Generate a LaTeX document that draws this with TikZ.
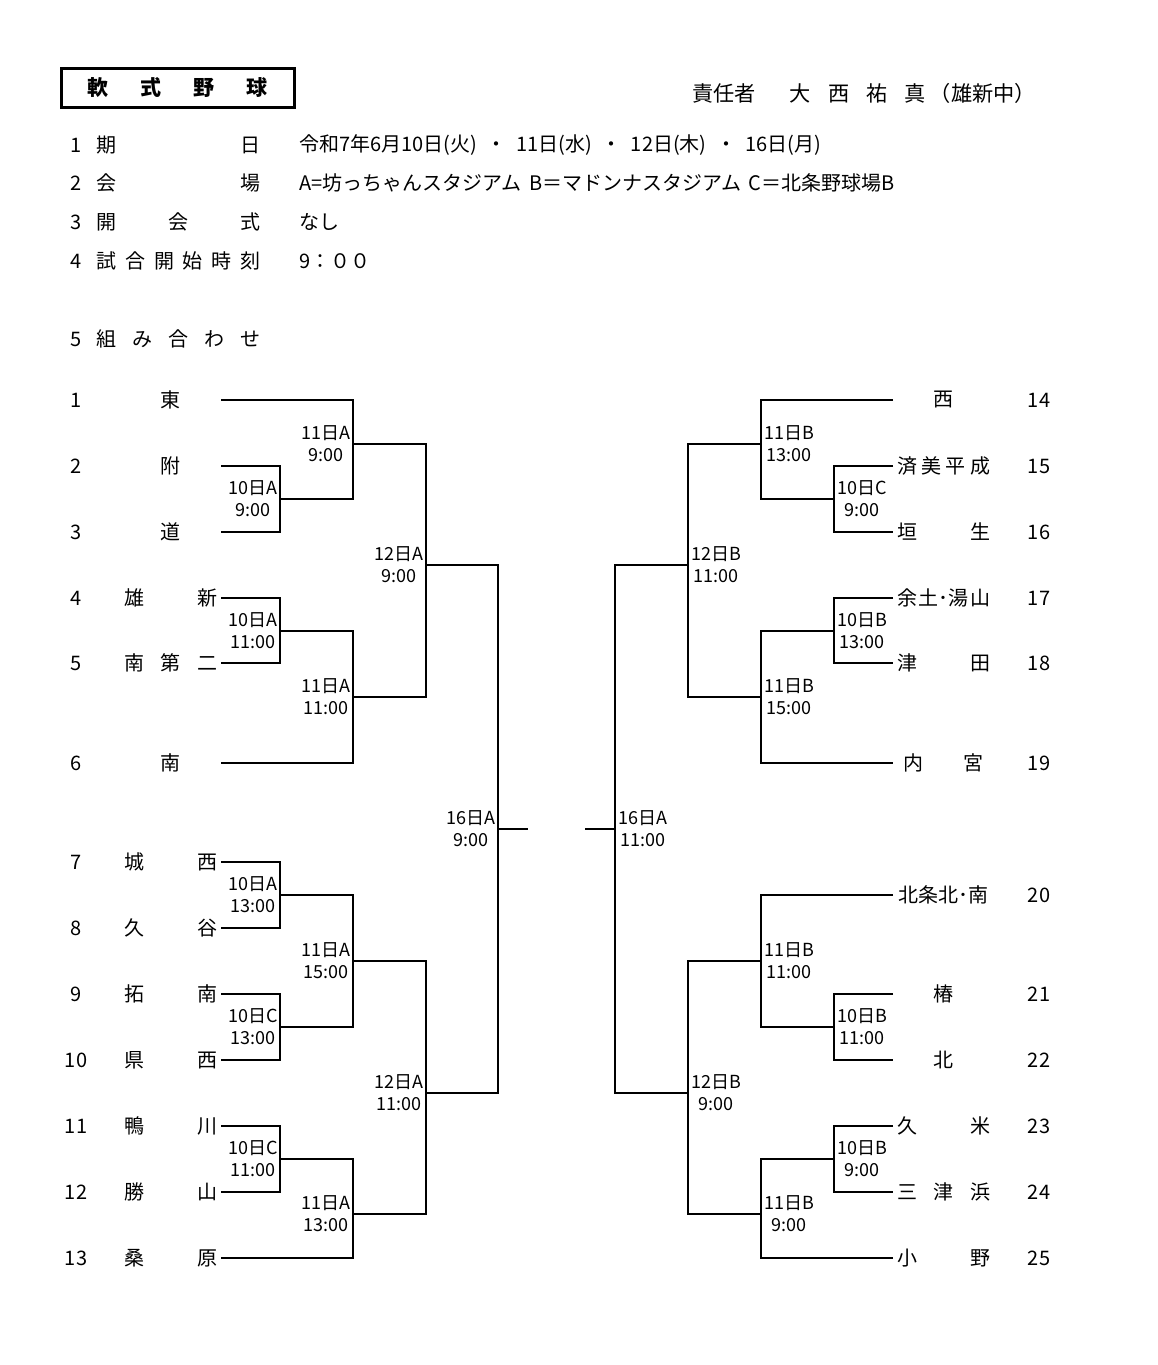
\documentclass[tikz,border=0pt]{standalone}
\usepackage{fontspec}
\setmainfont{Noto Sans CJK JP}
\usetikzlibrary{positioning}

\newcommand{\spread}[2]{\makebox[#1][s]{#2}}

\begin{document}
\begin{tikzpicture}[x=0.5pt,y=-0.5pt,
    bline/.style={line width=1pt},
    team/.style={font=\fontsize{10}{12}\selectfont,inner sep=0pt},
    lbl/.style={font=\fontsize{9}{11}\selectfont,align=center,inner sep=0pt}]
  \tikzstyle{item}=[font=\fontsize{10}{12}\selectfont,inner sep=0pt]

  \useasboundingbox (0,0) rectangle (1157,1365);

  \node[draw,line width=1.5pt,minimum width=116.5pt,minimum height=19.5pt,
    font=\fontsize{10.5}{12}\selectfont\bfseries,inner sep=0pt] (title) at (177.5,87.5)
    {\spread{90pt}{軟\hfill 式\hfill 野\hfill 球}};
  \node[item,font=\fontsize{10.6}{12}\selectfont,anchor=west] (chief) at (692,93)
    {責任者\hspace{1.6em}大\hspace{.8em}西\hspace{.8em}祐\hspace{.8em}真\hspace{.2em}（雄新中）};

  \node[item] (i1) at (76,145) {1};
  \node[item] (i2) at (76,183) {2};
  \node[item] (i3) at (76,222) {3};
  \node[item] (i4) at (76,261) {4};
  \node[item] (i5) at (76,339) {5};
  \node[item,anchor=west] (k1) at (96,145) {\spread{82pt}{期\hfill 日}};
  \node[item,anchor=west] (k2) at (96,183) {\spread{82pt}{会\hfill 場}};
  \node[item,anchor=west] (k3) at (96,222) {\spread{82pt}{開\hfill 会\hfill 式}};
  \node[item,anchor=west] (k4) at (96,261) {\spread{82pt}{試\hfill 合\hfill 開\hfill 始\hfill 時\hfill 刻}};
  \node[item,anchor=west] (k5) at (96,339) {\spread{82pt}{組\hfill み\hfill 合\hfill わ\hfill せ}};
  \node[item,anchor=west] (v1) at (299,145)
    {\spread{261pt}{令和7年6月10日(火)\hfil・\hfil 11日(水)\hfil・\hfil 12日(木)\hfil・\hfil 16日(月)}};
  \node[item,anchor=west] (v2) at (299,183)
    {A=坊っちゃんスタジアム\hspace{.4em}B＝マドンナスタジアム\hspace{.4em}C＝北条野球場B};
  \node[item,anchor=west] (v3) at (299,222) {なし};
  \node[item,anchor=west] (v4) at (299,261) {9：００};

  \foreach \i/\y in {1/400,2/466,3/532,4/598,5/663,6/763,7/862,8/928,9/994,10/1060,11/1126,12/1192,13/1258}{
    \coordinate (t\i) at (221,\y);
    \node[team] (no\i) at (76,\y) {\i};
  }
  \foreach \i/\y in {14/400,15/466,16/532,17/598,18/663,19/763,20/895,21/994,22/1060,23/1126,24/1192,25/1258}{
    \coordinate (t\i) at (893,\y);
    \node[team] (no\i) at (1039,\y) {\i};
  }

  \node[team] (n1) at (170.5,400) {\spread{46.5pt}{\hfill 東\hfill}};
  \node[team] (n2) at (170.5,466) {\spread{46.5pt}{\hfill 附\hfill}};
  \node[team] (n3) at (170.5,532) {\spread{46.5pt}{\hfill 道\hfill}};
  \node[team] (n4) at (170.5,598) {\spread{46.5pt}{雄\hfill 新}};
  \node[team] (n5) at (170.5,663) {\spread{46.5pt}{南\hfill 第\hfill 二}};
  \node[team] (n6) at (170.5,763) {\spread{46.5pt}{\hfill 南\hfill}};
  \node[team] (n7) at (170.5,862) {\spread{46.5pt}{城\hfill 西}};
  \node[team] (n8) at (170.5,928) {\spread{46.5pt}{久\hfill 谷}};
  \node[team] (n9) at (170.5,994) {\spread{46.5pt}{拓\hfill 南}};
  \node[team] (n10) at (170.5,1060) {\spread{46.5pt}{県\hfill 西}};
  \node[team] (n11) at (170.5,1126) {\spread{46.5pt}{鴨\hfill 川}};
  \node[team] (n12) at (170.5,1192) {\spread{46.5pt}{勝\hfill 山}};
  \node[team] (n13) at (170.5,1258) {\spread{46.5pt}{桑\hfill 原}};

  \node[team] (n14) at (943.5,400) {\spread{46.5pt}{\hfill 西\hfill}};
  \node[team] (n15) at (943.5,466) {\spread{46.5pt}{済\hfill 美\hfill 平\hfill 成}};
  \node[team] (n16) at (943.5,532) {\spread{46.5pt}{垣\hfill 生}};
  \node[team] (n17) at (943.5,598) {\spread{46.5pt}{余\hfill 土･湯\hfill 山}};
  \node[team] (n18) at (943.5,663) {\spread{46.5pt}{津\hfill 田}};
  \node[team] (n19) at (943.5,763) {\spread{46.5pt}{\hspace{.3em}内\hfill 宮\hspace{.3em}}};
  \node[team] (n20) at (943.5,895) {\spread{46.5pt}{\hfill 北条北･南\hfill}};
  \node[team] (n21) at (943.5,994) {\spread{46.5pt}{\hfill 椿\hfill}};
  \node[team] (n22) at (943.5,1060) {\spread{46.5pt}{\hfill 北\hfill}};
  \node[team] (n23) at (943.5,1126) {\spread{46.5pt}{久\hfill 米}};
  \node[team] (n24) at (943.5,1192) {\spread{46.5pt}{三\hfill 津\hfill 浜}};
  \node[team] (n25) at (943.5,1258) {\spread{46.5pt}{小\hfill 野}};

  \coordinate (m23) at (280,499);
  \coordinate (m45) at (280,631);
  \coordinate (m78) at (280,895);
  \coordinate (m910) at (280,1027);
  \coordinate (m1112) at (280,1159);
  \coordinate (m13) at (353,444);
  \coordinate (m46) at (353,697);
  \coordinate (m710) at (353,961);
  \coordinate (m1113) at (353,1214);
  \coordinate (m16) at (426,565);
  \coordinate (m713) at (426,1093);
  \coordinate (mL) at (498,829);
  \coordinate (eL) at (528,829);

  \coordinate (m1516) at (834,499);
  \coordinate (m1718) at (834,631);
  \coordinate (m2122) at (834,1027);
  \coordinate (m2324) at (834,1159);
  \coordinate (m1416) at (761,444);
  \coordinate (m1719) at (761,697);
  \coordinate (m2022) at (761,961);
  \coordinate (m2325) at (761,1214);
  \coordinate (m1419) at (688,565);
  \coordinate (m2025) at (688,1093);
  \coordinate (mR) at (615,829);
  \coordinate (eR) at (585,829);

  \draw[bline] (t2) -| (m23) |- (t3);
  \draw[bline] (t4) -| (m45) |- (t5);
  \draw[bline] (t7) -| (m78) |- (t8);
  \draw[bline] (t9) -| (m910) |- (t10);
  \draw[bline] (t11) -| (m1112) |- (t12);
  \draw[bline] (t1) -| (m13) |- (m23);
  \draw[bline] (m45) -| (m46) |- (t6);
  \draw[bline] (m78) -| (m710) |- (m910);
  \draw[bline] (m1112) -| (m1113) |- (t13);
  \draw[bline] (m13) -| (m16) |- (m46);
  \draw[bline] (m710) -| (m713) |- (m1113);
  \draw[bline] (m16) -| (mL) |- (m713);
  \draw[bline] (mL) -- (eL);

  \draw[bline] (t15) -| (m1516) |- (t16);
  \draw[bline] (t17) -| (m1718) |- (t18);
  \draw[bline] (t21) -| (m2122) |- (t22);
  \draw[bline] (t23) -| (m2324) |- (t24);
  \draw[bline] (t14) -| (m1416) |- (m1516);
  \draw[bline] (m1718) -| (m1719) |- (t19);
  \draw[bline] (t20) -| (m2022) |- (m2122);
  \draw[bline] (m2324) -| (m2325) |- (t25);
  \draw[bline] (m1416) -| (m1419) |- (m1719);
  \draw[bline] (m2022) -| (m2025) |- (m2325);
  \draw[bline] (m1419) -| (mR) |- (m2025);
  \draw[bline] (mR) -- (eR);

  \node[lbl,anchor=east] (d23) at ([xshift=-1pt]m23) {10日A\\9:00};
  \node[lbl,anchor=east] (d45) at ([xshift=-1pt]m45) {10日A\\11:00};
  \node[lbl,anchor=east] (d78) at ([xshift=-1pt]m78) {10日A\\13:00};
  \node[lbl,anchor=east] (d910) at ([xshift=-1pt]m910) {10日C\\13:00};
  \node[lbl,anchor=east] (d1112) at ([xshift=-1pt]m1112) {10日C\\11:00};
  \node[lbl,anchor=east] (d13) at ([xshift=-1pt]m13) {11日A\\9:00};
  \node[lbl,anchor=east] (d46) at ([xshift=-1pt]m46) {11日A\\11:00};
  \node[lbl,anchor=east] (d710) at ([xshift=-1pt]m710) {11日A\\15:00};
  \node[lbl,anchor=east] (d1113) at ([xshift=-1pt]m1113) {11日A\\13:00};
  \node[lbl,anchor=east] (d16) at ([xshift=-1pt]m16) {12日A\\9:00};
  \node[lbl,anchor=east] (d713) at ([xshift=-1pt]m713) {12日A\\11:00};
  \node[lbl,anchor=east] (dL) at ([xshift=-1pt]mL) {16日A\\9:00};

  \node[lbl,anchor=west] (d1516) at ([xshift=1.5pt]m1516) {10日C\\9:00};
  \node[lbl,anchor=west] (d1718) at ([xshift=1.5pt]m1718) {10日B\\13:00};
  \node[lbl,anchor=west] (d2122) at ([xshift=1.5pt]m2122) {10日B\\11:00};
  \node[lbl,anchor=west] (d2324) at ([xshift=1.5pt]m2324) {10日B\\9:00};
  \node[lbl,anchor=west] (d1416) at ([xshift=1.5pt]m1416) {11日B\\13:00};
  \node[lbl,anchor=west] (d1719) at ([xshift=1.5pt]m1719) {11日B\\15:00};
  \node[lbl,anchor=west] (d2022) at ([xshift=1.5pt]m2022) {11日B\\11:00};
  \node[lbl,anchor=west] (d2325) at ([xshift=1.5pt]m2325) {11日B\\9:00};
  \node[lbl,anchor=west] (d1419) at ([xshift=1.5pt]m1419) {12日B\\11:00};
  \node[lbl,anchor=west] (d2025) at ([xshift=1.5pt]m2025) {12日B\\9:00};
  \node[lbl,anchor=west] (dR) at ([xshift=1.5pt]mR) {16日A\\11:00};

\end{tikzpicture}
\end{document}
